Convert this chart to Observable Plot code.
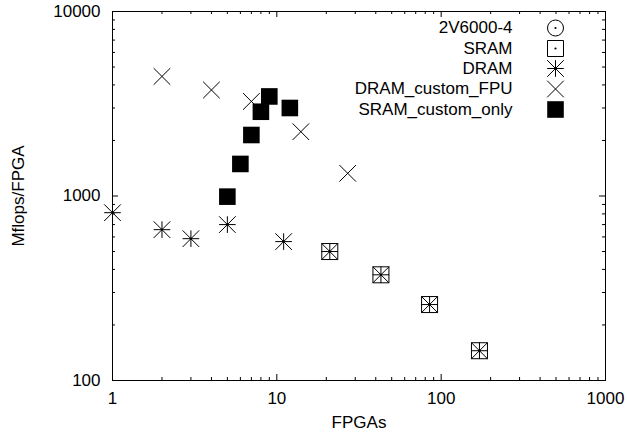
<!DOCTYPE html>
<html><head><meta charset="utf-8">
<script src="https://cdn.jsdelivr.net/npm/d3@7"></script>
<script src="https://cdn.jsdelivr.net/npm/@observablehq/plot@0.6"></script>
<style>body{margin:0;background:#fff} #chart{width:627px;height:436px}</style>
</head><body><div id="chart"></div>
<script>
// ---- data ----
const seriesNames = ["2V6000-4", "SRAM", "DRAM", "DRAM_custom_FPU", "SRAM_custom_only"];
const v2X = [];
const v2Y = [];
const sramX = [21, 43, 85, 171];
const sramY = [500, 374, 258, 145];
const dramX = [1, 2, 3, 5, 11, 21, 43, 85, 171];
const dramY = [812, 657, 587, 700, 566, 500, 374, 258, 145];
const fpuX = [2, 4, 7, 14, 27];
const fpuY = [4446, 3753, 3255, 2231, 1327];
const customX = [5, 6, 7, 8, 9, 12];
const customY = [992, 1492, 2141, 2862, 3464, 2999];
const xMajor = [1, 10, 100, 1000];
const xMinor = [2,3,4,5,6,7,8,9,20,30,40,50,60,70,80,90,200,300,400,500,600,700,800,900];
const yMajor = [100, 1000, 10000];
const yMinor = [200,300,400,500,600,700,800,900,2000,3000,4000,5000,6000,7000,8000,9000];
const xTitle = "FPGAs";
const yTitle = "Mflops/FPGA";

// ---- layout ----
const W = 627, H = 436, mL = 112, mR = 22, mT = 11, mB = 56;
const plotW = W - mL - mR, plotH = H - mT - mB;
const FS = 17;
const majorLen = 6, minorLen = 3;

// ---- gnuplot-like symbols ----
const rOf = s => Math.sqrt(s / Math.PI);
const symTimes = {draw(c, s) { const h = rOf(s); c.moveTo(-h, -h); c.lineTo(h, h); c.moveTo(-h, h); c.lineTo(h, -h); }};
const symAst = {draw(c, s) { const h = rOf(s); c.moveTo(-h, -h); c.lineTo(h, h); c.moveTo(-h, h); c.lineTo(h, -h); c.moveTo(-h, 0); c.lineTo(h, 0); c.moveTo(0, -h); c.lineTo(0, h); }};
const symBox = {draw(c, s) { const h = rOf(s); c.rect(-h, -h, 2 * h, 2 * h); }};
const symCircle = {draw(c, s) { const h = rOf(s); c.moveTo(h, 0); c.arc(0, 0, h, 0, 2 * Math.PI); }};

const styles = [
  {symbol: symCircle, r: 8, fill: "none", stroke: "black", dot: true},
  {symbol: symBox, r: 8, fill: "none", stroke: "black", dot: true},
  {symbol: symAst, r: 8.3, fill: "none", stroke: "black", dot: true},
  {symbol: symTimes, r: 8.3, fill: "none", stroke: "black", dot: false},
  {symbol: symBox, r: 8.3, fill: "black", stroke: "none", dot: false}
];
const seriesX = [v2X, sramX, dramX, fpuX, customX];
const seriesY = [v2Y, sramY, dramY, fpuY, customY];

const marks = [];
// frame
marks.push(Plot.frame({stroke: "black", strokeWidth: 1}));
// inward ticks on all four sides
for (const [vals, len] of [[xMajor, majorLen], [xMinor, minorLen]]) {
  marks.push(Plot.tickX(vals, {x: d => d, insetTop: plotH - len, stroke: "black"}));
  marks.push(Plot.tickX(vals, {x: d => d, insetBottom: plotH - len, stroke: "black"}));
}
for (const [vals, len] of [[yMajor, majorLen], [yMinor, minorLen]]) {
  marks.push(Plot.tickY(vals, {y: d => d, insetRight: plotW - len, stroke: "black"}));
  marks.push(Plot.tickY(vals, {y: d => d, insetLeft: plotW - len, stroke: "black"}));
}
// tick labels
marks.push(Plot.axisX(xMajor, {tickSize: 0, tickPadding: 11, tickFormat: d => String(d), fontSize: FS, label: null}));
marks.push(Plot.axisY(yMajor, {tickSize: 0, tickPadding: 12, tickFormat: d => String(d), fontSize: FS, label: null}));
// axis titles
marks.push(Plot.text([xTitle], {text: d => d, frameAnchor: "bottom", dy: 42, lineAnchor: "middle", textAnchor: "middle", fontSize: FS}));
marks.push(Plot.text([yTitle], {text: d => d, frameAnchor: "left", dx: -94, rotate: -90, lineAnchor: "middle", textAnchor: "middle", fontSize: FS}));

// data series
seriesX.forEach((xs, i) => {
  const st = styles[i];
  marks.push(Plot.dot(xs, {x: xs, y: seriesY[i], symbol: st.symbol, r: st.r, fill: st.fill, stroke: st.stroke, strokeWidth: 1}));
  if (st.dot) marks.push(Plot.dot(xs, {x: xs, y: seriesY[i], r: 1.1, fill: "black", stroke: "none"}));
});

// legend
const legendDy = [16.5, 37, 57, 77.5, 98];
seriesNames.forEach((name, i) => {
  const st = styles[i];
  marks.push(Plot.text([name], {text: d => d, frameAnchor: "top-right", dx: -93, dy: legendDy[i], textAnchor: "end", lineAnchor: "middle", fontSize: FS}));
  marks.push(Plot.dot([name], {frameAnchor: "top-right", dx: -50, dy: legendDy[i], symbol: st.symbol, r: st.r, fill: st.fill, stroke: st.stroke, strokeWidth: 1}));
  if (st.dot) marks.push(Plot.dot([name], {frameAnchor: "top-right", dx: -50, dy: legendDy[i], r: 1.1, fill: "black", stroke: "none"}));
});

const chart = Plot.plot({
  width: W, height: H,
  marginLeft: mL, marginRight: mR, marginTop: mT, marginBottom: mB,
  style: {fontFamily: "'Liberation Sans', Arial, sans-serif", fontSize: FS + "px", color: "black", background: "white"},
  x: {type: "log", domain: [1, 1000], axis: null},
  y: {type: "log", domain: [100, 10000], axis: null},
  marks
});
document.getElementById("chart").append(chart);
</script>
</body></html>
